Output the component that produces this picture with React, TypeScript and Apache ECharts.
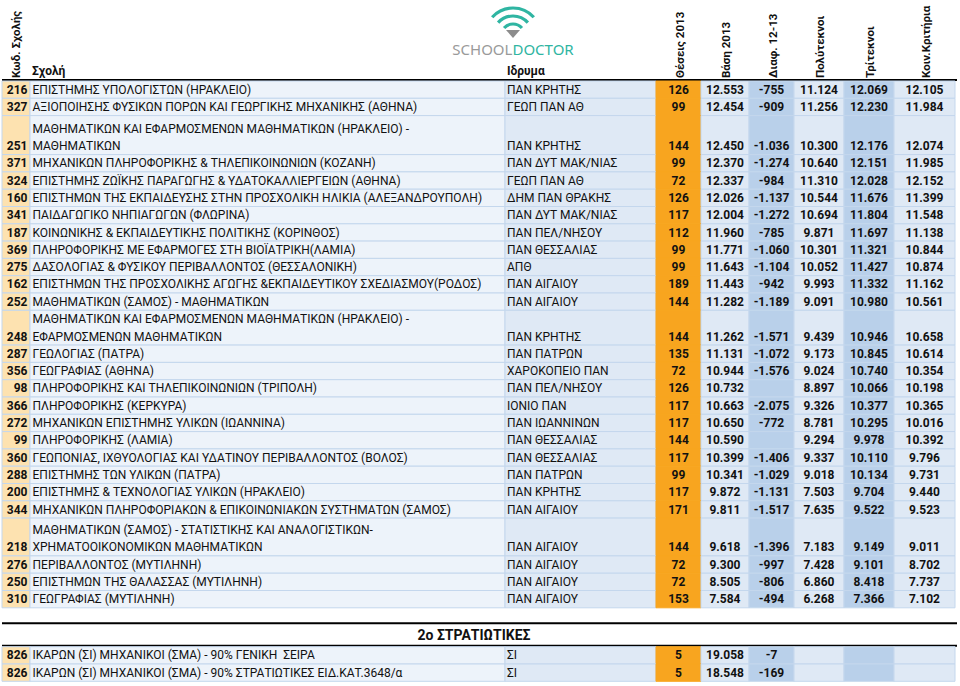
import React, { useEffect, useRef } from 'react';
import * as echarts from 'echarts';

// ---------- DATA ----------
const codes = [216, 327, 251, 371, 324, 160, 341, 187, 369, 275, 162, 252, 248, 287, 356, 98, 366, 272, 99, 360, 288, 200, 344, 218, 276, 250, 310];
const schools = [
  'ΕΠΙΣΤΗΜΗΣ ΥΠΟΛΟΓΙΣΤΩΝ (ΗΡΑΚΛΕΙΟ)',
  'ΑΞΙΟΠΟΙΗΣΗΣ ΦΥΣΙΚΩΝ ΠΟΡΩΝ ΚΑΙ ΓΕΩΡΓΙΚΗΣ ΜΗΧΑΝΙΚΗΣ (ΑΘΗΝΑ)',
  'ΜΑΘΗΜΑΤΙΚΩΝ ΚΑΙ ΕΦΑΡΜΟΣΜΕΝΩΝ ΜΑΘΗΜΑΤΙΚΩΝ (ΗΡΑΚΛΕΙΟ) -\nΜΑΘΗΜΑΤΙΚΩΝ',
  'ΜΗΧΑΝΙΚΩΝ ΠΛΗΡΟΦΟΡΙΚΗΣ & ΤΗΛΕΠΙΚΟΙΝΩΝΙΩΝ (ΚΟΖΑΝΗ)',
  'ΕΠΙΣΤΗΜΗΣ ΖΩΪΚΗΣ ΠΑΡΑΓΩΓΗΣ & ΥΔΑΤΟΚΑΛΛΙΕΡΓΕΙΩΝ (ΑΘΗΝΑ)',
  'ΕΠΙΣΤΗΜΩΝ ΤΗΣ ΕΚΠΑΙΔΕΥΣΗΣ ΣΤΗΝ ΠΡΟΣΧΟΛΙΚΗ ΗΛΙΚΙΑ (ΑΛΕΞΑΝΔΡΟΥΠΟΛΗ)',
  'ΠΑΙΔΑΓΩΓΙΚΟ ΝΗΠΙΑΓΩΓΩΝ (ΦΛΩΡΙΝΑ)',
  'ΚΟΙΝΩΝΙΚΗΣ & ΕΚΠΑΙΔΕΥΤΙΚΗΣ ΠΟΛΙΤΙΚΗΣ (ΚΟΡΙΝΘΟΣ)',
  'ΠΛΗΡΟΦΟΡΙΚΗΣ ΜΕ ΕΦΑΡΜΟΓΕΣ ΣΤΗ ΒΙΟΪΑΤΡΙΚΗ(ΛΑΜΙΑ)',
  'ΔΑΣΟΛΟΓΙΑΣ & ΦΥΣΙΚΟΥ ΠΕΡΙΒΑΛΛΟΝΤΟΣ (ΘΕΣΣΑΛΟΝΙΚΗ)',
  'ΕΠΙΣΤΗΜΩΝ ΤΗΣ ΠΡΟΣΧΟΛΙΚΗΣ ΑΓΩΓΗΣ &ΕΚΠΑΙΔΕΥΤΙΚΟΥ ΣΧΕΔΙΑΣΜΟΥ(ΡΟΔΟΣ)',
  'ΜΑΘΗΜΑΤΙΚΩΝ (ΣΑΜΟΣ) - ΜΑΘΗΜΑΤΙΚΩΝ',
  'ΜΑΘΗΜΑΤΙΚΩΝ ΚΑΙ ΕΦΑΡΜΟΣΜΕΝΩΝ ΜΑΘΗΜΑΤΙΚΩΝ (ΗΡΑΚΛΕΙΟ) -\nΕΦΑΡΜΟΣΜΕΝΩΝ ΜΑΘΗΜΑΤΙΚΩΝ',
  'ΓΕΩΛΟΓΙΑΣ (ΠΑΤΡΑ)',
  'ΓΕΩΓΡΑΦΙΑΣ (ΑΘΗΝΑ)',
  'ΠΛΗΡΟΦΟΡΙΚΗΣ ΚΑΙ ΤΗΛΕΠΙΚΟΙΝΩΝΙΩΝ (ΤΡΙΠΟΛΗ)',
  'ΠΛΗΡΟΦΟΡΙΚΗΣ (ΚΕΡΚΥΡΑ)',
  'ΜΗΧΑΝΙΚΩΝ ΕΠΙΣΤΗΜΗΣ ΥΛΙΚΩΝ (ΙΩΑΝΝΙΝΑ)',
  'ΠΛΗΡΟΦΟΡΙΚΗΣ (ΛΑΜΙΑ)',
  'ΓΕΩΠΟΝΙΑΣ, ΙΧΘΥΟΛΟΓΙΑΣ ΚΑΙ ΥΔΑΤΙΝΟΥ ΠΕΡΙΒΑΛΛΟΝΤΟΣ (ΒΟΛΟΣ)',
  'ΕΠΙΣΤΗΜΗΣ ΤΩΝ ΥΛΙΚΩΝ (ΠΑΤΡΑ)',
  'ΕΠΙΣΤΗΜΗΣ & ΤΕΧΝΟΛΟΓΙΑΣ ΥΛΙΚΩΝ (ΗΡΑΚΛΕΙΟ)',
  'ΜΗΧΑΝΙΚΩΝ ΠΛΗΡΟΦΟΡΙΑΚΩΝ & ΕΠΙΚΟΙΝΩΝΙΑΚΩΝ ΣΥΣΤΗΜΑΤΩΝ (ΣΑΜΟΣ)',
  'ΜΑΘΗΜΑΤΙΚΩΝ (ΣΑΜΟΣ) - ΣΤΑΤΙΣΤΙΚΗΣ ΚΑΙ ΑΝΑΛΟΓΙΣΤΙΚΩΝ-\nΧΡΗΜΑΤΟΟΙΚΟΝΟΜΙΚΩΝ ΜΑΘΗΜΑΤΙΚΩΝ',
  'ΠΕΡΙΒΑΛΛΟΝΤΟΣ (ΜΥΤΙΛΗΝΗ)',
  'ΕΠΙΣΤΗΜΩΝ ΤΗΣ ΘΑΛΑΣΣΑΣ (ΜΥΤΙΛΗΝΗ)',
  'ΓΕΩΓΡΑΦΙΑΣ (ΜΥΤΙΛΗΝΗ)',
];
const institutions = [
  'ΠΑΝ ΚΡΗΤΗΣ', 'ΓΕΩΠ ΠΑΝ ΑΘ', 'ΠΑΝ ΚΡΗΤΗΣ', 'ΠΑΝ ΔΥΤ ΜΑΚ/ΝΙΑΣ', 'ΓΕΩΠ ΠΑΝ ΑΘ', 'ΔΗΜ ΠΑΝ ΘΡΑΚΗΣ',
  'ΠΑΝ ΔΥΤ ΜΑΚ/ΝΙΑΣ', 'ΠΑΝ ΠΕΛ/ΝΗΣΟΥ', 'ΠΑΝ ΘΕΣΣΑΛΙΑΣ', 'ΑΠΘ', 'ΠΑΝ ΑΙΓΑΙΟΥ', 'ΠΑΝ ΑΙΓΑΙΟΥ',
  'ΠΑΝ ΚΡΗΤΗΣ', 'ΠΑΝ ΠΑΤΡΩΝ', 'ΧΑΡΟΚΟΠΕΙΟ ΠΑΝ', 'ΠΑΝ ΠΕΛ/ΝΗΣΟΥ', 'ΙΟΝΙΟ ΠΑΝ', 'ΠΑΝ ΙΩΑΝΝΙΝΩΝ',
  'ΠΑΝ ΘΕΣΣΑΛΙΑΣ', 'ΠΑΝ ΘΕΣΣΑΛΙΑΣ', 'ΠΑΝ ΠΑΤΡΩΝ', 'ΠΑΝ ΚΡΗΤΗΣ', 'ΠΑΝ ΑΙΓΑΙΟΥ', 'ΠΑΝ ΑΙΓΑΙΟΥ',
  'ΠΑΝ ΑΙΓΑΙΟΥ', 'ΠΑΝ ΑΙΓΑΙΟΥ', 'ΠΑΝ ΑΙΓΑΙΟΥ',
];
const seats2013 = [126, 99, 144, 99, 72, 126, 117, 112, 99, 99, 189, 144, 144, 135, 72, 126, 117, 117, 144, 117, 99, 117, 171, 144, 72, 72, 153];
const base2013 = [12553, 12454, 12450, 12370, 12337, 12026, 12004, 11960, 11771, 11643, 11443, 11282, 11262, 11131, 10944, 10732, 10663, 10650, 10590, 10399, 10341, 9872, 9811, 9618, 9300, 8505, 7584];
const diff1213 = [-755, -909, -1036, -1274, -984, -1137, -1272, -785, -1060, -1104, -942, -1189, -1571, -1072, -1576, null, -2075, -772, null, -1406, -1029, -1131, -1517, -1396, -997, -806, -494];
const polyteknoi = [11124, 11256, 10300, 10640, 11310, 10544, 10694, 9871, 10301, 10052, 9993, 9091, 9439, 9173, 9024, 8897, 9326, 8781, 9294, 9337, 9018, 7503, 7635, 7183, 7428, 6860, 6268];
const triteknoi = [12069, 12230, 12176, 12151, 12028, 11676, 11804, 11697, 11321, 11427, 11332, 10980, 10946, 10845, 10740, 10066, 10377, 10295, 9978, 10110, 10134, 9704, 9522, 9149, 9101, 8418, 7366];
const koinKrit = [12105, 11984, 12074, 11985, 12152, 11399, 11548, 11138, 10844, 10874, 11162, 10561, 10658, 10614, 10354, 10198, 10365, 10016, 10392, 9796, 9731, 9440, 9523, 9011, 8702, 7737, 7102];

const milTitle = '2ο ΣΤΡΑΤΙΩΤΙΚΕΣ';
const milCodes = [826, 826];
const milSchools = ['ΙΚΑΡΩΝ (ΣΙ) ΜΗΧΑΝΙΚΟΙ (ΣΜΑ) - 90% ΓΕΝΙΚΗ  ΣΕΙΡΑ', 'ΙΚΑΡΩΝ (ΣΙ) ΜΗΧΑΝΙΚΟΙ (ΣΜΑ) - 90% ΣΤΡΑΤΙΩΤΙΚΕΣ ΕΙΔ.ΚΑΤ.3648/α'];
const milInstitutions = ['ΣΙ', 'ΣΙ'];
const milSeats = [5, 5];
const milBase = [19058, 18548];
const milDiff = [-7, -169];

const headers = ['Θέσεις 2013', 'Βάση 2013', 'Διαφ. 12-13', 'Πολύτεκνοι', 'Τρίτεκνοι', 'Κοιν.Κριτήρια'];

// ---------- LAYOUT / STYLE ----------
const FONT = 'Roboto, "Open Sans", sans-serif';
const ROW_H = 17.3;
const DOUBLE_H: Record<number, number> = { 2: 39.0, 12: 34.8, 23: 37.8 };
const SEC1_TOP = 81;
const SEC2_TOP = 646.7;

const LIGHT = '#dfe9f5';
const MID = '#b9d0ea';
const COLS = [
  { x0: 2, x1: 30, fill: '#fde2b0' },
  { x0: 30, x1: 505, fill: '#edf3fa' },
  { x0: 505, x1: 656, fill: LIGHT },
  { x0: 656, x1: 701, fill: '#f8a51f' },
  { x0: 701, x1: 749, fill: LIGHT },
  { x0: 749, x1: 794, fill: MID },
  { x0: 794, x1: 844, fill: LIGHT },
  { x0: 844, x1: 894, fill: MID },
  { x0: 894, x1: 955, fill: LIGHT },
];

function fmt(n: number | null | undefined): string {
  if (n === null || n === undefined) return '';
  const g = Math.abs(n).toString().replace(/\B(?=(\d{3})+(?!\d))/g, '.');
  return (n < 0 ? '-' : '') + g;
}

type Row = { code: number; school: string; inst: string; values: (number | null)[]; top: number; bottom: number };

function buildRows(): Row[] {
  const rows: Row[] = [];
  let y = SEC1_TOP;
  codes.forEach((c, i) => {
    const h = DOUBLE_H[i] ?? ROW_H;
    rows.push({
      code: c, school: schools[i], inst: institutions[i],
      values: [seats2013[i], base2013[i], diff1213[i], polyteknoi[i], triteknoi[i], koinKrit[i]],
      top: y, bottom: y + h,
    });
    y += h;
  });
  y = SEC2_TOP;
  milCodes.forEach((c, i) => {
    rows.push({
      code: c, school: milSchools[i], inst: milInstitutions[i],
      values: [milSeats[i], milBase[i], milDiff[i], null, null, null],
      top: y, bottom: y + ROW_H,
    });
    y += ROW_H;
  });
  return rows;
}

export default function App() {
  const ref = useRef<HTMLDivElement>(null);
  useEffect(() => {
    if (!ref.current) return;
    const chart = echarts.init(ref.current, undefined, { renderer: 'svg' });
    const rows = buildRows();
    const seriesData = rows.map((r, i) => [0, r.top, i, r.bottom]);

    const renderItem = (params: any, api: any) => {
      const i = api.value(2) as number;
      const r = rows[i];
      const yTop = api.coord([0, api.value(1)])[1];
      const yBot = api.coord([0, api.value(3)])[1];
      const children: any[] = [];
      COLS.forEach((c, ci) => {
        const x0 = api.coord([c.x0, 0])[0];
        const x1 = api.coord([c.x1, 0])[0];
        children.push({
          type: 'rect',
          shape: { x: x0, y: yTop, width: x1 - x0, height: yBot - yTop },
          style: { fill: c.fill, stroke: ci === 3 ? c.fill : '#c4d7ed', lineWidth: 1 },
        });
      });
      const cy = yBot - 8.6;
      children.push({
        type: 'text', x: api.coord([27.5, 0])[0], y: cy,
        style: { text: String(r.code), font: `bold 12px ${FONT}`, fill: '#111', align: 'right', verticalAlign: 'middle' },
      });
      const lines = r.school.split('\n');
      lines.forEach((ln, k) => {
        children.push({
          type: 'text', x: api.coord([32.5, 0])[0], y: cy - (lines.length - 1 - k) * 17.5,
          style: { text: ln, font: `12px ${FONT}`, fill: '#111', align: 'left', verticalAlign: 'middle' },
        });
      });
      children.push({
        type: 'text', x: api.coord([507, 0])[0], y: cy,
        style: { text: r.inst, font: `12px ${FONT}`, fill: '#111', align: 'left', verticalAlign: 'middle' },
      });
      r.values.forEach((v, k) => {
        const c = COLS[3 + k];
        const xc = api.coord([(c.x0 + c.x1) / 2, 0])[0];
        const t = fmt(v);
        if (!t) return;
        children.push({
          type: 'text', x: xc, y: cy,
          style: { text: t, font: `bold 12px ${FONT}`, fill: '#111', align: 'center', verticalAlign: 'middle' },
        });
      });
      return { type: 'group', children };
    };

    const headerTexts: any[] = headers.map((h, k) => {
      const c = COLS[3 + k];
      return {
        type: 'text', x: (c.x0 + c.x1) / 2 + 1, y: 78, rotation: Math.PI / 2,
        style: { text: h, font: `bold 11.5px ${FONT}`, fill: '#111', align: 'left', verticalAlign: 'middle' },
      };
    });

    const arcs = [28, 20, 12].map((r) => ({
      type: 'arc',
      shape: { cx: 513, cy: 36, r, startAngle: -Math.PI * (138 / 180), endAngle: -Math.PI * (42 / 180), clockwise: true },
      style: { stroke: '#2fb5a2', lineWidth: 3.2, fill: 'none', lineCap: 'butt' },
    }));

    chart.setOption({
      animation: false,
      backgroundColor: '#ffffff',
      grid: { left: 0, right: 0, top: 0, bottom: 0 },
      xAxis: { type: 'value', min: 0, max: 960, show: false },
      yAxis: { type: 'value', min: 0, max: 686, inverse: true, show: false },
      series: [{
        type: 'custom', coordinateSystem: 'cartesian2d', renderItem, clip: false, silent: true,
        encode: { x: 0, y: 1 }, data: seriesData,
      }],
      graphic: [
        ...arcs,
        { type: 'polygon', shape: { points: [[506, 30], [520, 30], [513, 38]] }, style: { fill: '#8c8c8c' } },
        {
          type: 'text', x: 513, y: 49,
          style: {
            text: '{a|SCHOOL}{b|DOCTOR}', align: 'center', verticalAlign: 'middle',
            rich: {
              a: { font: `15px "Noto Sans", sans-serif`, fill: '#9a9a9a' },
              b: { font: `15px "Noto Sans", sans-serif`, fill: '#2fb5a2' },
            },
          },
        },
        {
          type: 'text', x: 16, y: 78, rotation: Math.PI / 2,
          style: { text: 'Κωδ. Σχολής', font: `bold 11.5px ${FONT}`, fill: '#111', align: 'left', verticalAlign: 'middle' },
        },
        { type: 'text', x: 32, y: 71, style: { text: 'Σχολή', font: `bold 12px ${FONT}`, fill: '#111', align: 'left', verticalAlign: 'middle' } },
        { type: 'text', x: 507, y: 71, style: { text: 'Ιδρυμα', font: `bold 12px ${FONT}`, fill: '#111', align: 'left', verticalAlign: 'middle' } },
        ...headerTexts,
        { type: 'rect', shape: { x: 2, y: 79, width: 955, height: 2 }, style: { fill: '#000' } },
        { type: 'rect', shape: { x: 2, y: 622.3, width: 955, height: 2 }, style: { fill: '#000' } },
        { type: 'rect', shape: { x: 2, y: 644.7, width: 955, height: 2 }, style: { fill: '#000' } },
        { type: 'text', x: 474, y: 635, style: { text: milTitle, font: `bold 14px ${FONT}`, fill: '#111', align: 'center', verticalAlign: 'middle' } },
      ],
    });
    return () => chart.dispose();
  }, []);
  return <div ref={ref} style={{ position: 'absolute', left: 0, top: 0, width: 960, height: 686, background: '#fff' }} />;
}
